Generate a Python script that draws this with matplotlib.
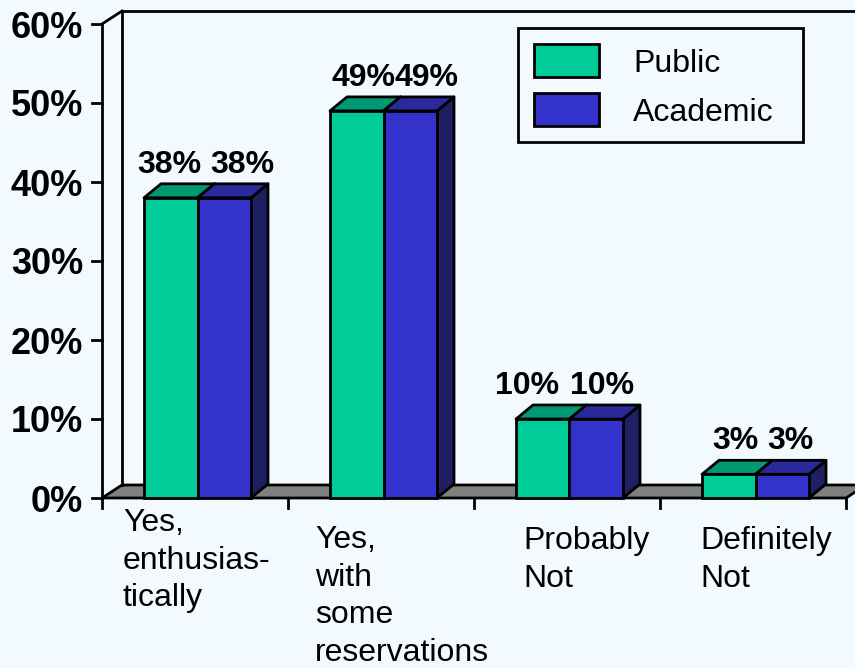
import matplotlib.pyplot as plt
from matplotlib.patches import Polygon, Rectangle

# survey answers and the share of each library type
categories = ['Yes,\nenthusias-\ntically', 'Yes,\nwith\nsome\nreservations',
              'Probably\nNot', 'Definitely\nNot']
public = [38, 49, 10, 3]
academic = [38, 49, 10, 3]
series_names = ['Public', 'Academic']
yticks = [0, 10, 20, 30, 40, 50, 60]

# layout in pixels
W, H = 855, 668
X0, Y0 = 102, 498          # where the front axes meet
CAT_PX = 186               # width of one category
PCT_PX = 7.9               # pixels per percent
BAR_LEFT = 42 / CAT_PX     # gap before the first bar of a group
BAR_W = 53.5 / CAT_PX
BX, BY = 17 / CAT_PX, 14 / PCT_PX    # bar depth
WX, WY = 20 / CAT_PX, 13 / PCT_PX    # floor / wall depth
label_nudge = [[-1.5, 6.5, -16, 6.5], [18.5, 16.5, 6, 8]]
cat_label_x = [21, 27, 49, 40]
cat_label_top = [508, 525, 526, 526]

bg = '#F2FAFF'
front = ['#00CC99', '#3333CC']
top = ['#009973', '#2A2A9C']
side = ['#006B55', '#1F1F63']

plt.rcParams['font.family'] = ['Liberation Sans', 'DejaVu Sans']

fig = plt.figure(figsize=(W / 100, H / 100), dpi=100)
fig.patch.set_facecolor(bg)
ax = fig.add_axes([0, 0, 1, 1])
ax.set_facecolor(bg)
ax.set_xlim(-X0 / CAT_PX, (W - X0) / CAT_PX)
ax.set_ylim(-(H - Y0) / PCT_PX, Y0 / PCT_PX)
ax.axis('off')

n = len(categories)
ymax = yticks[-1]
lw = 2.0

# floor
ax.add_patch(Polygon([(0, 0), (n, 0), (n + WX, WY), (WX, WY)], closed=True,
                     facecolor='#808080', edgecolor='black', lw=lw, zorder=1))
# walls
ax.plot([0, 0], [0, ymax], color='black', lw=lw, zorder=2)
ax.plot([0, WX], [ymax, ymax + WY], color='black', lw=lw, zorder=2)
ax.plot([WX, WX], [WY, ymax + WY], color='black', lw=lw, zorder=2)
ax.plot([WX, n + 1], [ymax + WY, ymax + WY], color='black', lw=lw, zorder=2)

# ticks and tick labels
for t in yticks:
    ax.plot([-10 / CAT_PX, 0], [t, t], color='black', lw=lw, zorder=2)
    ax.text(-19 / CAT_PX, t, f'{t}%', ha='right', va='center_baseline',
            fontsize=26, fontweight='bold')
for i in range(n + 1):
    ax.plot([i, i], [0, -10 / PCT_PX], color='black', lw=lw, zorder=2)

# 3d bars
for i in range(n):
    for s, vals in enumerate([public, academic]):
        v = vals[i]
        x = i + BAR_LEFT + s * BAR_W
        z = 3 + s * 3
        ax.add_patch(Polygon([(x + BAR_W, 0), (x + BAR_W + BX, BY),
                              (x + BAR_W + BX, v + BY), (x + BAR_W, v)],
                             facecolor=side[s], edgecolor='black', lw=lw,
                             joinstyle='round', zorder=z))
        ax.add_patch(Polygon([(x, v), (x + BX, v + BY), (x + BAR_W + BX, v + BY),
                              (x + BAR_W, v)],
                             facecolor=top[s], edgecolor='black', lw=lw,
                             joinstyle='round', zorder=z + 1))
        ax.add_patch(Rectangle((x, 0), BAR_W, v, facecolor=front[s],
                               edgecolor='black', lw=lw, zorder=z + 2))
        ax.text(x + BAR_W / 2 + label_nudge[s][i] / CAT_PX, v + 25 / PCT_PX,
                f'{v}%', ha='center', va='baseline', fontsize=23,
                fontweight='bold', zorder=10)

# category labels
for i, lab in enumerate(categories):
    ax.text(i + cat_label_x[i] / CAT_PX, (Y0 - cat_label_top[i]) / PCT_PX, lab,
            ha='left', va='top', fontsize=23, linespacing=1.33)

# legend box
def fx(p):
    return p / W

def fy(p):
    return 1 - p / H

fig.patches.append(Rectangle((fx(518), fy(142)), fx(803) - fx(518), (142 - 28) / H,
                             transform=fig.transFigure, facecolor='none',
                             edgecolor='black', lw=lw, zorder=5))
for k, name in enumerate(series_names):
    top_px = 44 + k * 49
    fig.patches.append(Rectangle((fx(534), fy(top_px + 33)), fx(599) - fx(534), 33 / H,
                                 transform=fig.transFigure, facecolor=front[k],
                                 edgecolor='black', lw=lw, zorder=5))
    fig.text(fx(633), fy(top_px + 16.5), name, ha='left', va='center_baseline',
             fontsize=23)

fig.savefig('out.png', dpi=100, facecolor=bg)
